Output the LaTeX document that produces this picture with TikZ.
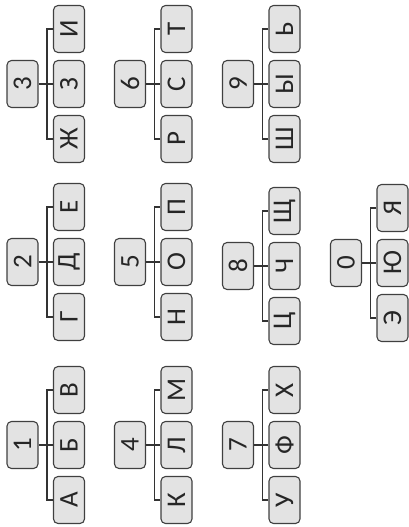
\documentclass[tikz,border=0pt]{standalone}
\usepackage{fontspec}
\setmainfont{Carlito}
\begin{document}
\begin{tikzpicture}[x=1pt,y=-1pt,
  keybox/.style={draw=gray!50!black, line width=1.1pt, fill=gray!22, rounded corners=4.5pt,
    minimum width=47pt, minimum height=31pt, inner sep=0pt, rotate=90,
    font=\fontsize{27}{27}\selectfont, text=gray!30!black},
  conn/.style={draw=gray!40!black, line width=1.2pt}]
\useasboundingbox (0,0) rectangle (409,527);
\newcommand\keygroup[7]{%
  \node[keybox] (#1) at (#2,#3) {#4};
  \node[keybox] (#1a) at (#2+46.5,#3+55) {#5};
  \node[keybox] (#1b) at (#2+46.5,#3) {#6};
  \node[keybox] (#1c) at (#2+46.5,#3-55) {#7};
  \draw[conn] (#1.south) -- (#1b.north);
  \draw[conn] (#1a.north) -- ++(-6,0) |- (#1c.north);
}
\keygroup{k1}{22.5}{445}{1}{А}{Б}{В}
\keygroup{k2}{22.5}{262}{2}{Г}{Д}{Е}
\keygroup{k3}{22.5}{84}{3}{Ж}{З}{И}
\keygroup{k4}{130}{445}{4}{К}{Л}{М}
\keygroup{k5}{130}{262}{5}{Н}{О}{П}
\keygroup{k6}{130}{84}{6}{Р}{С}{Т}
\keygroup{k7}{238}{445}{7}{У}{Ф}{Х}
\keygroup{k8}{238}{266}{8}{Ц}{Ч}{Щ}
\keygroup{k9}{238}{84}{9}{Ш}{Ы}{Ь}
\keygroup{k0}{346}{263}{0}{Э}{Ю}{Я}
\end{tikzpicture}
\end{document}
